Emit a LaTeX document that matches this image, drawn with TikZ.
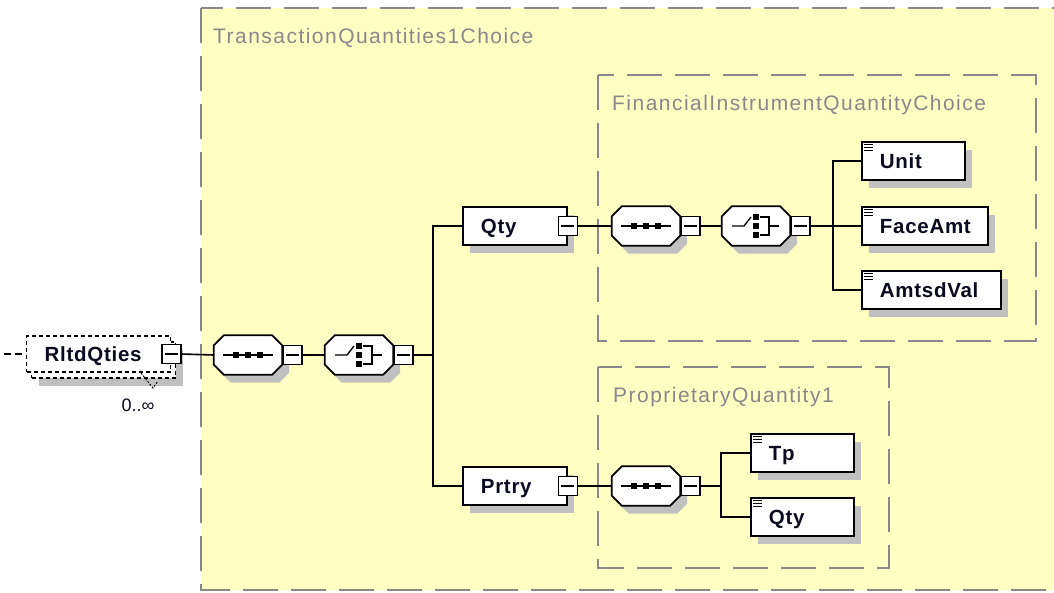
\documentclass[tikz,border=0pt]{standalone}
\usepackage{fontspec}
\setmainfont{Liberation Sans}
\newfontfamily\grpfont[LetterSpace=7]{Liberation Sans}
\newfontfamily\elfont[LetterSpace=3.5]{Liberation Sans}
\usetikzlibrary{positioning,shadows}
\definecolor{groupyellow}{RGB}{255,255,196}
\definecolor{framegray}{RGB}{136,136,136}
\definecolor{shadowgray}{RGB}{192,192,192}
\definecolor{elemtext}{RGB}{10,10,30}

\begin{document}
\begin{tikzpicture}[
    x=1pt, y=-1pt,
    grpframe/.style={draw=framegray, line width=2pt, dash pattern=on 35pt off 13pt},
    grplabel/.style={anchor=west, inner sep=0pt, text height=15pt, text depth=0pt, text=framegray, font=\grpfont\fontsize{21}{25}\selectfont},
    boxshadow/.style={drop shadow={shadow xshift=7pt, shadow yshift=-8pt, fill=shadowgray, opacity=1}},
    box/.style={draw=black, fill=white, line width=1.8pt, anchor=west, minimum height=38pt, inner xsep=18pt, inner ysep=0pt, text width=#1, align=left, text height=15pt, text depth=0pt, text=elemtext, font=\elfont\bfseries\fontsize{20.5}{24}\selectfont},
    elem/.style={box=#1, boxshadow},
    compositor/.style={minimum width=68pt, minimum height=39pt, inner sep=0pt},
    octagon/.style={draw=black, fill=white, line width=1.8pt, line join=miter, boxshadow},
    minus/.style={draw=black, fill=white, line width=1.5pt, minimum size=19pt, inner sep=0pt, path picture={\draw[line width=1.4pt] ([xshift=3pt]path picture bounding box.west) -- ([xshift=-3pt]path picture bounding box.east);}},
    wire/.style={draw=black, line width=1.6pt},
    glyph/.style={line width=1.3pt}
]
\useasboundingbox (0,0) rectangle (1054,592);
\fill[white] (0,0) rectangle (1054,592);

% Choice group and nested groups
\fill[groupyellow] (201,8) rectangle (1070,590);
\draw[grpframe] (201,8) rectangle (1070,590);
\node[grplabel] (tqlbl) at (213,36) {TransactionQuantities1Choice};
\draw[grpframe] (598,75) rectangle (1036,341);
\node[grplabel] (filbl) at (612,103) {FinancialInstrumentQuantityChoice};
\draw[grpframe] (598,367) rectangle (889,568);
\node[grplabel] (pqlbl) at (613,395) {ProprietaryQuantity1};

% Root element (repeating)
\node[box=108pt, minimum height=36pt, line width=1.3pt, dash pattern=on 4pt off 3pt, boxshadow] (rltdback) at (31,360) {};
\node[box=108pt, minimum height=36pt, line width=1.3pt, dash pattern=on 4pt off 3pt] (rltd) at (26,354) {RltdQties};
\node[minus] (rltdm) at (rltd.east) {};
\node[inner sep=0pt, text=elemtext, font=\fontsize{18}{21}\selectfont] (rltdocc) at (138,405) {0..∞};
\draw[line width=1pt, dash pattern=on 2pt off 1.5pt] (141,373) -- (153,388) -- (158,381);
\coordinate (lead) at (4,354);

% Sequence / choice compositors
\node[compositor] (seqa) at (248,355) {};
\node[compositor] (cha) at (359,355) {};
\node[compositor] (seqb) at (646,226) {};
\node[compositor] (chb) at (756,226) {};
\node[compositor] (seqc) at (646,486) {};
\foreach \s in {seqa,cha,seqb,chb,seqc}
  \filldraw[octagon] ([xshift=10pt]\s.north west) -- ([xshift=-10pt]\s.north east)
    -- ([yshift=-10pt]\s.north east) -- ([yshift=10pt]\s.south east)
    -- ([xshift=-10pt]\s.south east) -- ([xshift=10pt]\s.south west)
    -- ([yshift=10pt]\s.south west) -- ([yshift=-10pt]\s.north west) -- cycle;
\node[minus, right=0pt of seqa] (seqam) {};
\node[minus, right=0pt of cha] (cham) {};
\node[minus, right=0pt of seqb] (seqbm) {};
\node[minus, right=0pt of chb] (chbm) {};
\node[minus, right=0pt of seqc] (seqcm) {};

% Qty branch
\node[elem=68pt] (qty) at (462,226) {Qty};
\node[minus] (qtym) at (qty.east) {};
\node[elem=67pt] (unit) at (861,161) {Unit};
\node[elem=90pt] (face) at (861,226) {FaceAmt};
\node[elem=103pt] (amtsd) at (861,290) {AmtsdVal};

% Prtry branch
\node[elem=68pt] (prtry) at (462,486) {Prtry};
\node[minus] (prtrym) at (prtry.east) {};
\node[elem=67pt] (tp) at (750,453) {Tp};
\node[elem=67pt] (qtyb) at (750,517) {Qty};

% Sequence and choice glyphs
\foreach \s in {seqa,seqb,seqc}{
  \draw[glyph] ([shift={(-25,0)}]\s.center) -- ([shift={(25,0)}]\s.center);
  \foreach \d in {-12,0,12}
    \fill ([shift={(\d,0)}]\s.center) ++(-2.8,-2.8) rectangle ++(5.6,5.6);
}
\foreach \c in {cha,chb}{
  \draw[glyph] ([shift={(-24,0)}]\c.center) -- ([shift={(-12,0)}]\c.center) -- ([shift={(-5,-9)}]\c.center);
  \foreach \d in {-9,0,9}
    \fill ([shift={(0,\d)}]\c.center) ++(-2.6,-2.6) rectangle ++(5.2,5.2);
  \draw[glyph] ([shift={(4,-9)}]\c.center) -| ([shift={(13,9)}]\c.center) -- ([shift={(4,9)}]\c.center);
  \draw[glyph] ([shift={(13,0)}]\c.center) -- ([shift={(23,0)}]\c.center);
}

% Simple-type marks on leaf elements
\foreach \leaf in {unit,face,amtsd,tp,qtyb}
  \foreach \k in {0,1,2}
    \draw[line width=1.1pt] ([shift={(3,3+3*\k)}]\leaf.north west) -- ++(9,0);

% Wires
\draw[wire, dash pattern=on 7pt off 4pt] (lead) -- (rltd.west);
\draw[wire] (rltdm.east) -- (seqa.west);
\draw[wire] (seqam.east) -- (cha.west);
\draw[wire] (cham.east) -- ++(19,0) |- (qty.west);
\draw[wire] (cham.east) -- ++(19,0) |- (prtry.west);
\draw[wire] (qtym.east) -- (seqb.west);
\draw[wire] (seqbm.east) -- (chb.west);
\foreach \leaf in {unit,face,amtsd}
  \draw[wire] (chbm.east) -- ++(22,0) |- (\leaf.west);
\draw[wire] (prtrym.east) -- (seqc.west);
\foreach \leaf in {tp,qtyb}
  \draw[wire] (seqcm.east) -- ++(20,0) |- (\leaf.west);

\end{tikzpicture}
\end{document}
